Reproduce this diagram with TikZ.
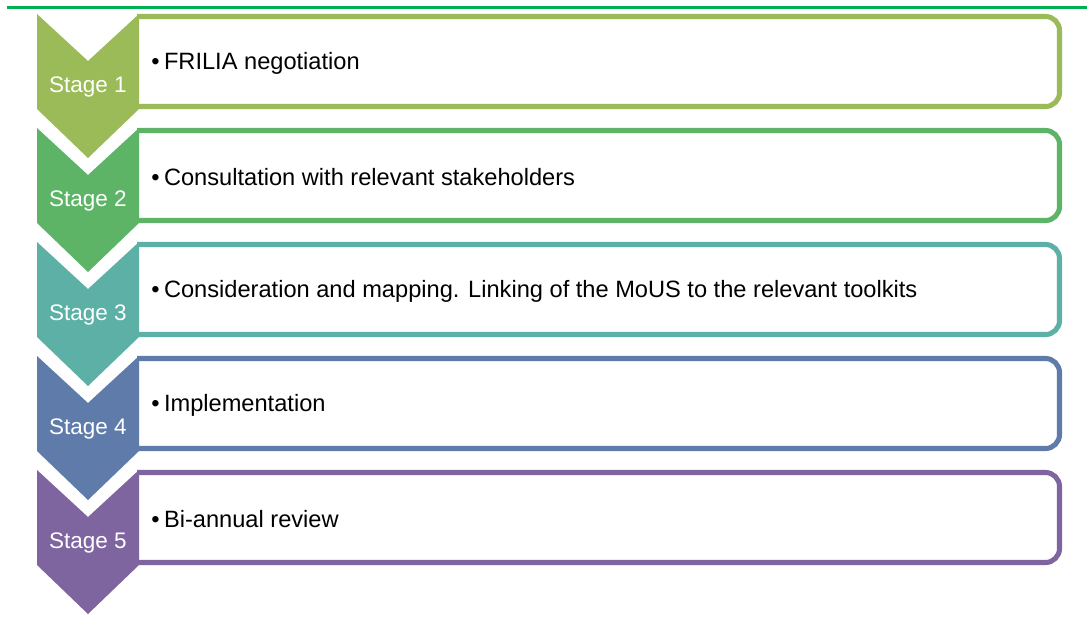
\documentclass[tikz,border=0pt]{standalone}
\usepackage{fontspec}
\setmainfont{Liberation Sans}
\usepackage{xcolor}
\definecolor{stageA}{HTML}{9BBB59}
\definecolor{stageB}{HTML}{5DB466}
\definecolor{stageC}{HTML}{5DB0A6}
\definecolor{stageD}{HTML}{5E7BAA}
\definecolor{stageE}{HTML}{7F65A0}
\definecolor{topline}{HTML}{00B050}

\begin{document}
\begin{tikzpicture}[x=0.025cm,y=-0.025cm,
	frame/.style={line width=3.6pt,rounded corners=0.35cm,fill=white},
	stagelabel/.style={text=white,inner sep=0pt,font=\fontsize{16}{19}\selectfont},
	itemtext/.style={anchor=west,inner sep=0pt,font=\fontsize{16.8}{20}\selectfont}]
	\useasboundingbox (0,0) rectangle (1087,626);
	\draw[topline,line width=2.2pt] (7,7.5) -- (1087,7.5);
	
	\draw[frame,draw=stageA] (137,16.5) -- (1059.5,16.5) -- (1059.5,106.5) -- (137,106.5);
	\fill[stageA] (37,14) -- (88,61) -- (139,14) -- (139,109) -- (88,158) -- (37,109) -- cycle;
	\node[stagelabel] (stg1) at (88,87) {Stage 1};
	\node[itemtext] (txt1) at (151,63) {\textbullet\hspace{3.2pt}FRILIA negotiation};
	
	\draw[frame,draw=stageB] (137,130.5) -- (1059.5,130.5) -- (1059.5,220.5) -- (137,220.5);
	\fill[stageB] (37,128) -- (88,175) -- (139,128) -- (139,223) -- (88,272) -- (37,223) -- cycle;
	\node[stagelabel] (stg2) at (88,201) {Stage 2};
	\node[itemtext] (txt2) at (151,177) {\textbullet\hspace{3.2pt}Consultation with relevant stakeholders};
	
	\draw[frame,draw=stageC] (137,244.5) -- (1059.5,244.5) -- (1059.5,334.5) -- (137,334.5);
	\fill[stageC] (37,242) -- (88,289) -- (139,242) -- (139,337) -- (88,386) -- (37,337) -- cycle;
	\node[stagelabel] (stg3) at (88,315) {Stage 3};
	\node[itemtext] (txt3) at (151,291) {\textbullet\hspace{3.2pt}Consideration and mapping. Linking of the MoUS to the relevant toolkits};
	
	\draw[frame,draw=stageD] (137,358.5) -- (1059.5,358.5) -- (1059.5,448.5) -- (137,448.5);
	\fill[stageD] (37,356) -- (88,403) -- (139,356) -- (139,451) -- (88,500) -- (37,451) -- cycle;
	\node[stagelabel] (stg4) at (88,429) {Stage 4};
	\node[itemtext] (txt4) at (151,405) {\textbullet\hspace{3.2pt}Implementation};
	
	\draw[frame,draw=stageE] (137,472.5) -- (1059.5,472.5) -- (1059.5,562.5) -- (137,562.5);
	\fill[stageE] (37,470) -- (88,517) -- (139,470) -- (139,565) -- (88,614) -- (37,565) -- cycle;
	\node[stagelabel] (stg5) at (88,543) {Stage 5};
	\node[itemtext] (txt5) at (151,519) {\textbullet\hspace{3.2pt}Bi-annual review};
\end{tikzpicture}
\end{document}
